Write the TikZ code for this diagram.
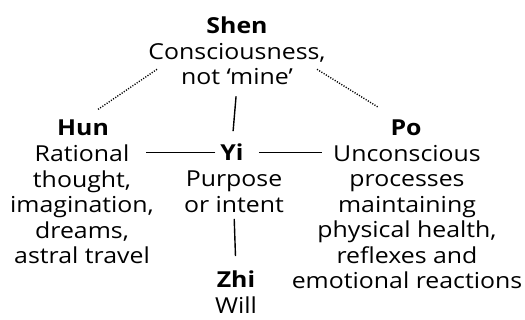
\documentclass[tikz,border=0pt]{standalone}
\usepackage{fontspec}
\setmainfont{Open Sans}[FakeStretch=1.13]
\usepackage{tikz}
\usetikzlibrary{positioning,calc}

\begin{document}
\begin{tikzpicture}[x=1pt,y=1pt,
    every node/.style={inner sep=0pt, align=center, font=\fontsize{22}{25.5}\selectfont},
    title/.style={anchor=base, font=\fontsize{22}{25.5}\selectfont\bfseries},
    txt/.style={anchor=north},
    link/.style={line width=1.4pt},
    dotlink/.style={line width=1.4pt, dash pattern=on 1.1pt off 1.5pt}]
    \useasboundingbox (0,0) rectangle (525,320);

    % Shen on top
    \node[txt] (shen) at (237,303) {\textbf{Shen}\\Consciousness,\\not ‘mine’};

    % Hun
    \node[title] (hun) at (83,184) {Hun};
    \node[txt] (hunTxt) at (82,175) {Rational\\thought,\\imagination,\\dreams,\\astral travel};

    % Yi in the middle
    \node[title] (yi) at (232,159) {Yi};
    \node[txt] (yiTxt) at (234,149) {Purpose\\or intent};

    % Po
    \node[title] (po) at (406,184) {Po};
    \node[txt] (poTxt) at (407,175) {Unconscious\\processes\\maintaining\\physical health,\\reflexes and\\emotional reactions};

    % Zhi at the bottom
    \node[txt] (zhi) at (236,49) {\textbf{Zhi}\\Will};

    % links
    \draw[link, shorten <=11pt, shorten >=13pt] (shen.south) -- (yi.north);
    \draw[link, shorten <=6pt, shorten >=15pt] (yiTxt.south) -- (zhi.north);
    \draw[link, shorten <=5pt, shorten >=-8pt] (yi.west) -- (yi.west -| hunTxt.east);
    \draw[link, shorten <=15pt, shorten >=-30pt] (yi.east) -- (yi.east -| poTxt.west);

    % dotted links from Shen
    \draw[dotlink] ([shift={(-80,16)}]shen.south) -- ([shift={(14,10)}]hun.north);
    \draw[dotlink] ([shift={(80,16)}]shen.south) -- ([shift={(-28,13)}]po.north);
\end{tikzpicture}
\end{document}
